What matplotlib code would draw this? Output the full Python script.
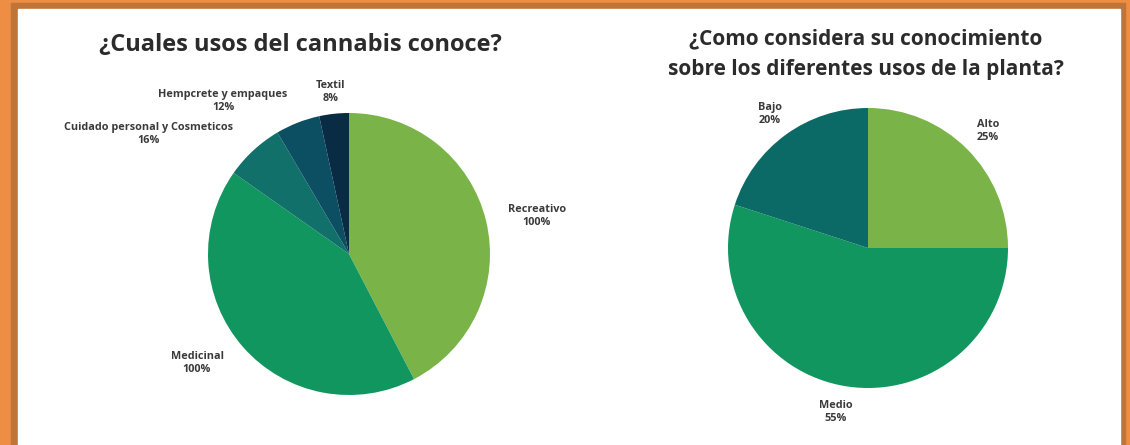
import matplotlib.pyplot as plt
from matplotlib.patches import Rectangle

# ========== Data ==========
usos_labels = ['Recreativo', 'Medicinal', 'Cuidado personal y Cosmeticos',
               'Hempcrete y empaques', 'Textil']
usos_values = [100, 100, 16, 12, 8]
usos_colors = ['#7ab448', '#10965e', '#12706a', '#0c4e62', '#092b44']

nivel_labels = ['Alto', 'Medio', 'Bajo']
nivel_values = [25, 55, 20]
nivel_colors = ['#7ab448', '#10965e', '#0c6a66']

W, H = 1130, 445
plt.rcParams['font.family'] = ['Open Sans', 'DejaVu Sans']

fig = plt.figure(figsize=(W / 100, H / 100), dpi=100)
fig.patch.set_facecolor('#ee8d44')


def px_rect(x0, y0, x1, y1, color):
    # rectangle in pixel coords (y from top)
    fig.patches.append(Rectangle((x0 / W, 1 - y1 / H), (x1 - x0) / W, (y1 - y0) / H,
                                 transform=fig.transFigure, color=color, zorder=-10))


# frame
px_rect(11, 3, 1125, 446, '#bf7438')
px_rect(18, 9, 1120, 446, 'white')


def pie_axes(cx, cy, r, values, colors):
    ax = fig.add_axes([(cx - r) / W, 1 - (cy + r) / H, 2 * r / W, 2 * r / H])
    ax.pie(values, colors=colors, startangle=90, counterclock=False,
           radius=1, wedgeprops=dict(linewidth=0))
    # pie() resets the limits, so set them afterwards
    ax.set_xlim(-1, 1)
    ax.set_ylim(-1, 1)
    ax.set_aspect('equal')
    ax.axis('off')
    ax.set_zorder(5)
    return ax


def label(x, y, txt):
    fig.text(x / W, 1 - y / H, txt, ha='center', va='center', fontsize=7.8,
             fontweight='bold', color='#3a3a3a', linespacing=1.3)


# ========== Left pie ==========
ax1 = pie_axes(349, 254, 141, usos_values, usos_colors)
fig.text(300 / W, 1 - 45 / H, '¿Cuales usos del cannabis conoce?', ha='center',
         va='center', fontsize=17, fontweight='bold', color='#2b2b2b')

label(537, 216, 'Recreativo\n100%')
label(197, 363, 'Medicinal\n100%')
label(149, 134, 'Cuidado personal y Cosmeticos\n16%')
label(223, 101, 'Hempcrete y empaques\n12%')
label(331, 92, 'Textil\n8%')

# ========== Right pie ==========
ax2 = pie_axes(868, 248, 140, nivel_values, nivel_colors)
fig.text(866 / W, 1 - 54 / H, '¿Como considera su conocimiento\nsobre los diferentes usos de la planta?',
         ha='center', va='center', fontsize=15, fontweight='bold', color='#2b2b2b',
         linespacing=1.6)

label(988, 131, 'Alto\n25%')
label(770, 114, 'Bajo\n20%')
label(836, 412, 'Medio\n55%')

fig.savefig('out.png', dpi=100, facecolor=fig.get_facecolor())
